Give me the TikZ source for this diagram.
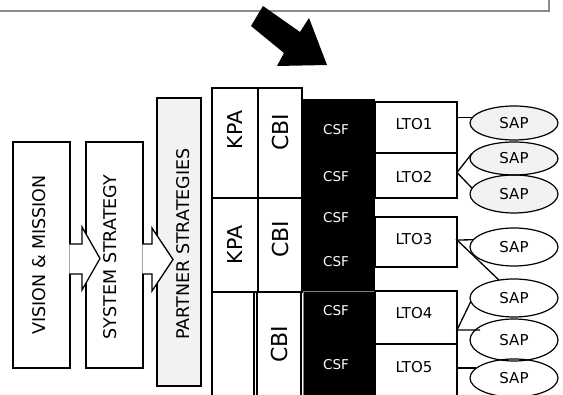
\documentclass[tikz,border=0pt]{standalone}
\usepackage{fontspec}
\setmainfont{DejaVu Sans}
\usetikzlibrary{shapes.geometric,calc}
\definecolor{lightfill}{HTML}{F2F2F2}
\definecolor{framegray}{HTML}{8C8C8C}
\begin{document}
\begin{tikzpicture}[x=1pt,y=-1pt,
  boxstyle/.style={draw, line width=1.3pt, inner sep=0pt, outer sep=0pt},
  vtext/.style={rotate=90, font=\fontsize{17.5}{19}\selectfont, inner sep=0pt},
  bigtext/.style={rotate=90, font=\fontsize{20.5}{22}\selectfont, inner sep=0pt},
  cbitext/.style={rotate=90, font=\fontsize{22}{24}\selectfont, inner sep=0pt},
  csftext/.style={text=white, font=\fontsize{13.5}{15}\selectfont, inner sep=0pt},
  ltotext/.style={font=\fontsize{15}{17}\selectfont, inner sep=0pt},
  ltobox/.style={boxstyle, minimum width=82pt},
  sap/.style={ellipse, inner sep=0pt, minimum width=88pt, font=\fontsize{15}{17}\selectfont, fill=#1},
  link/.style={line width=1.3pt},
]
\useasboundingbox (0,0) rectangle (563,395);

% top frame
\node[draw=framegray, line width=1.8pt, minimum width=580pt, minimum height=30pt, anchor=south east, inner sep=0pt] (frame) at (550,12) {};

% big black arrow
\fill (263,6) -- (300,32) -- (309,18) -- (327,65) -- (277,66) -- (284,53) -- (251,26) -- cycle;

% left boxes
\node[boxstyle, minimum width=57pt, minimum height=226pt] (vis) at (41.5,255) {};
\node[boxstyle, minimum width=57pt, minimum height=226pt] (sys) at (114.5,255) {};
\node[boxstyle, fill=lightfill, minimum width=44pt, minimum height=288pt] (par) at (179,242) {};

% block arrows
\filldraw[fill=white, line width=1.3pt] ($(vis.east)+(-0.7,19)$) -- ($(vis.east)+(12,19)$) -- ($(vis.east)+(12,35)$) -- ($(vis.east)+(30,3.5)$) -- ($(vis.east)+(12,-28)$) -- ($(vis.east)+(12,-11)$) -- ($(vis.east)+(-0.7,-11)$);
\filldraw[fill=white, line width=1.3pt] ($(sys.east)+(-0.7,19)$) -- ($(sys.east)+(9,19)$) -- ($(sys.east)+(9,36)$) -- ($(sys.east)+(30,4.5)$) -- ($(sys.east)+(9,-27)$) -- ($(sys.east)+(9,-11)$) -- ($(sys.east)+(-0.7,-11)$);

\node[vtext] (vist) at (39,255) {VISION \& MISSION};
\node[vtext] (syst) at (110,257) {SYSTEM STRATEGY};
\node[vtext] (part) at (183,244) {PARTNER STRATEGIES};

% KPA / CBI
\node[boxstyle, minimum width=46pt, minimum height=110pt] (kpa1) at (235,143) {};
\node[boxstyle, minimum width=44pt, minimum height=110pt] (cbi1) at (280,143) {};
\node[boxstyle, minimum width=46pt, minimum height=94pt] (kpa2) at (235,245) {};
\node[boxstyle, minimum width=44pt, minimum height=94pt] (cbi2) at (280,245) {};
\node[boxstyle, minimum width=42pt, minimum height=108pt] (blank) at (233,346) {};
\node[boxstyle, minimum width=44pt, minimum height=108pt] (cbi3) at (279,346) {};
\node[bigtext] (kpa1t) at (235,130) {KPA};
\node[cbitext] (cbi1t) at (280,132) {CBI};
\node[bigtext] (kpa2t) at (235,245) {KPA};
\node[cbitext] (cbi2t) at (280,239) {CBI};
\node[cbitext] (cbi3t) at (279,344) {CBI};

% black CSF column
\node[fill=black, minimum width=73pt, minimum height=192pt, inner sep=0pt] (csfa) at (338.5,195) {};
\node[fill=black, draw=gray, line width=0.6pt, minimum width=72pt, minimum height=110pt, inner sep=0pt] (csfb) at (339,346) {};
\node[csftext] (c1) at (336,130) {CSF};
\node[csftext] (c2) at (336,177) {CSF};
\node[csftext] (c3) at (336,218) {CSF};
\node[csftext] (c4) at (336,262) {CSF};
\node[csftext] (c5) at (336,311) {CSF};
\node[csftext] (c6) at (336,365) {CSF};

% LTO boxes
\node[ltobox, minimum height=51pt] (lto1) at (416,127.5) {};
\node[ltobox, minimum height=45pt] (lto2) at (416,175.5) {};
\node[ltobox, minimum height=50pt] (lto3) at (416,242) {};
\node[ltobox, minimum height=53pt] (lto4) at (416,317.5) {};
\node[ltobox, minimum height=60pt] (lto5) at (416,374) {};
\node[ltotext] (l1) at (414,124) {LTO1};
\node[ltotext] (l2) at (414,177) {LTO2};
\node[ltotext] (l3) at (414,239) {LTO3};
\node[ltotext] (l4) at (414,313) {LTO4};
\node[ltotext] (l5) at (414,367) {LTO5};

% SAP ellipses
\node[sap=lightfill, minimum height=34pt] (s1) at (514,123) {SAP};
\node[sap=lightfill, minimum height=33pt] (s2) at (514,158.5) {SAP};
\node[sap=lightfill, minimum height=38pt] (s3) at (514,194) {SAP};
\node[sap=white, minimum height=38pt] (s4) at (514,247) {SAP};
\node[sap=white, minimum height=38pt] (s5) at (514,298) {SAP};
\node[sap=white, minimum height=42pt] (s6) at (514,340) {SAP};
\node[sap=white, minimum height=38pt] (s7) at (514,378) {SAP};
\foreach \n/\h in {s1/17,s2/16.5,s3/19,s4/19,s5/19,s6/21,s7/19}
  \draw[line width=1.2pt] (\n.center) ellipse [x radius=44pt, y radius=\h pt];

% connectors
\coordinate (j2) at ($(lto2.east)+(0,-3)$);
\coordinate (j3) at ($(lto3.east)+(0,-2)$);
\coordinate (j4) at ($(lto4.east)+(0,12.5)$);
\coordinate (e6) at ($(s6.center)+(-34,-10)$);
\draw[link] (lto1.east |- s1.172) -- (s1.172);
\draw[link] (s2.173) -- (j2) -- (s3.172);
\draw[link] (s4.170) -- (j3) -- (s5.130);
\draw[link] (s5.185) -- (j4) -- (e6);
\draw[link] (lto5.east |- s7.165) -- (s7.165);
\end{tikzpicture}
\end{document}
